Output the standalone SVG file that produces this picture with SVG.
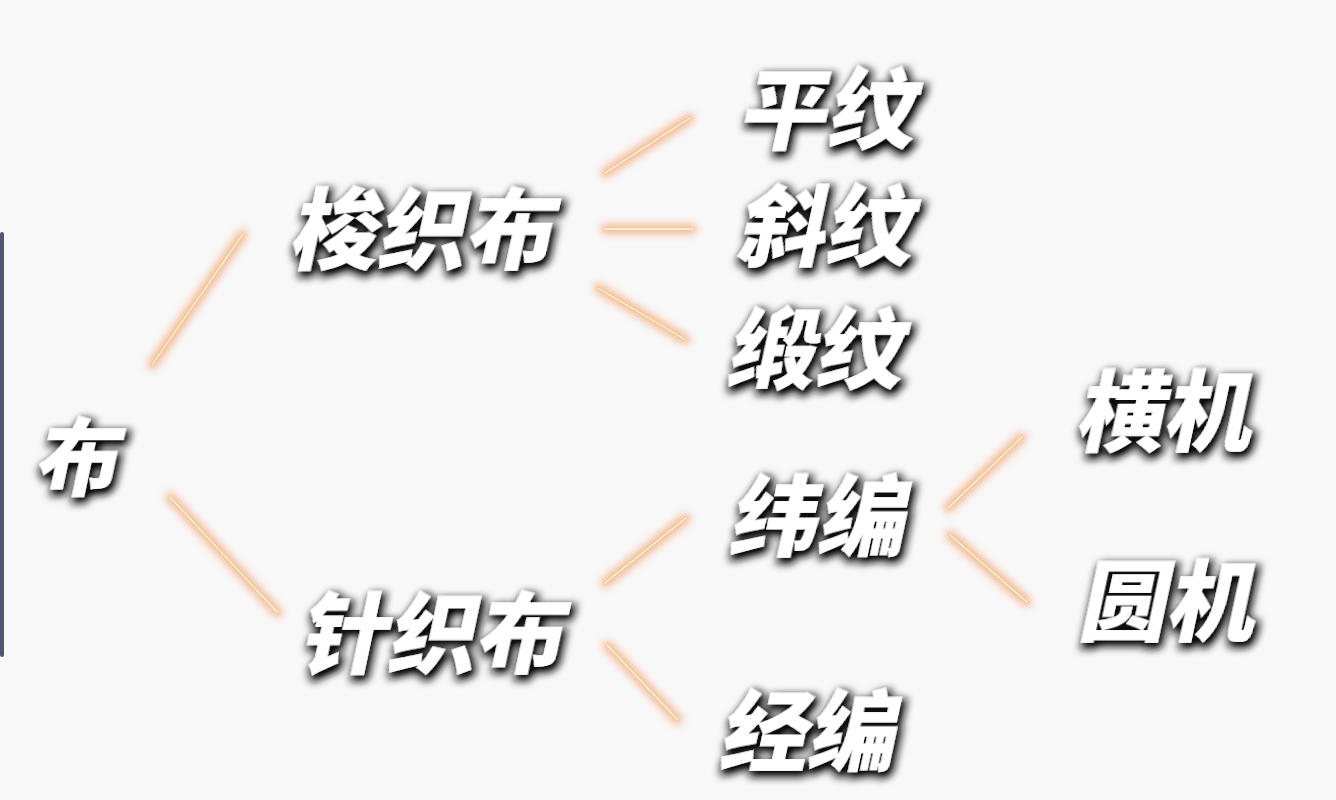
<svg xmlns="http://www.w3.org/2000/svg" width="1336" height="800" viewBox="0 0 1336 800">
<defs>
<filter id="shadow" x="-20%" y="-30%" width="140%" height="160%">
<feMorphology in="SourceAlpha" operator="dilate" radius="1.5" result="d"/>
<feOffset in="d" dx="3" dy="4" result="o"/>
<feGaussianBlur in="o" stdDeviation="4" result="b"/>
<feComponentTransfer in="b" result="s"><feFuncA type="linear" slope="1.1"/></feComponentTransfer>
<feFlood flood-color="#111"/>
<feComposite in2="s" operator="in" result="sh"/>
<feMerge><feMergeNode in="sh"/><feMergeNode in="SourceGraphic"/></feMerge>
</filter>
<filter id="glow" x="-30%" y="-30%" width="160%" height="160%">
<feGaussianBlur stdDeviation="4"/>
</filter>
<style>
.t{font-family:"Noto Sans CJK SC","Noto Sans CJK JP",sans-serif;font-weight:900;font-size:88px;fill:#ffffff;filter:url(#shadow)}
.g{stroke:#f39a66;stroke-width:9;stroke-linecap:round;fill:none;opacity:0.75;filter:url(#glow)}
.c{stroke:#f8c27f;stroke-width:3.2;stroke-linecap:round;fill:none}
.w{stroke:#fffdf4;stroke-width:1.3;stroke-linecap:round;fill:none}
</style>
</defs>
<rect width="1336" height="800" fill="#f8f8f8"/>
<rect x="0" y="232" width="4" height="425" rx="2" fill="#4d5874"/>
<g id="connectors">
<g class="g">
<line x1="152" y1="365" x2="243" y2="234"/>
<line x1="170" y1="497" x2="278" y2="613"/>
<line x1="605" y1="173" x2="690" y2="118"/>
<line x1="605" y1="229" x2="693" y2="229"/>
<line x1="598" y1="288" x2="686" y2="340"/>
<line x1="605" y1="583" x2="686" y2="518"/>
<line x1="607" y1="645" x2="678" y2="720"/>
<line x1="948" y1="508" x2="1022" y2="437"/>
<line x1="950" y1="535" x2="1027" y2="602"/>
</g>
<g class="c">
<line x1="152" y1="365" x2="243" y2="234"/>
<line x1="170" y1="497" x2="278" y2="613"/>
<line x1="605" y1="173" x2="690" y2="118"/>
<line x1="605" y1="229" x2="693" y2="229"/>
<line x1="598" y1="288" x2="686" y2="340"/>
<line x1="605" y1="583" x2="686" y2="518"/>
<line x1="607" y1="645" x2="678" y2="720"/>
<line x1="948" y1="508" x2="1022" y2="437"/>
<line x1="950" y1="535" x2="1027" y2="602"/>
</g>
<g class="w">
<line x1="152" y1="365" x2="243" y2="234"/>
<line x1="170" y1="497" x2="278" y2="613"/>
<line x1="605" y1="173" x2="690" y2="118"/>
<line x1="605" y1="229" x2="693" y2="229"/>
<line x1="598" y1="288" x2="686" y2="340"/>
<line x1="605" y1="583" x2="686" y2="518"/>
<line x1="607" y1="645" x2="678" y2="720"/>
<line x1="948" y1="508" x2="1022" y2="437"/>
<line x1="950" y1="535" x2="1027" y2="602"/>
</g>
</g>
<g id="n-bu"><text class="t" style="font-size:84px" transform="translate(33,489) skewX(-12)">布</text></g>
<g id="n-suozhibu"><text class="t" transform="translate(288,262) skewX(-12)">梭织布</text></g>
<g id="n-zhenzhibu"><text class="t" transform="translate(298,666) skewX(-12)">针织布</text></g>
<g id="n-pingwen"><text class="t" transform="translate(737,142) skewX(-12)">平纹</text></g>
<g id="n-xiewen"><text class="t" transform="translate(735,259) skewX(-12)">斜纹</text></g>
<g id="n-duanwen"><text class="t" transform="translate(725,382) skewX(-12)">缎纹</text></g>
<g id="n-weibian"><text class="t" transform="translate(728,549) skewX(-12)">纬编</text></g>
<g id="n-jingbian"><text class="t" transform="translate(718,764) skewX(-12)">经编</text></g>
<g id="n-hengji"><text class="t" transform="translate(1074,444) skewX(-12)">横机</text></g>
<g id="n-yuanji"><text class="t" transform="translate(1077,634) skewX(-12)">圆机</text></g>
</svg>
